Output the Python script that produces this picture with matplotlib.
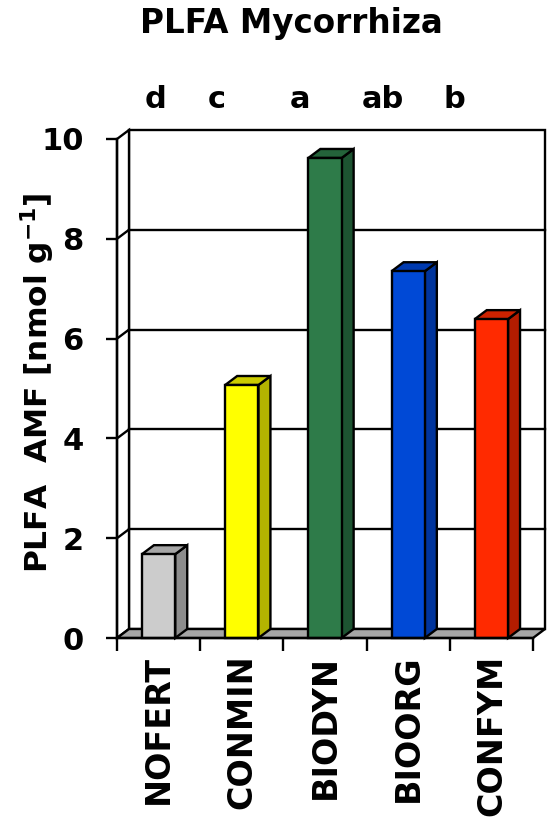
import matplotlib
matplotlib.use("Agg")
import matplotlib.pyplot as plt
from matplotlib.patches import Polygon

# data
treatments = ["NOFERT", "CONMIN", "BIODYN", "BIOORG", "CONFYM"]
amf_values = [1.68, 5.07, 9.62, 7.35, 6.39]
letters = ["d", "c", "a", "ab", "b"]
y_ticks = [0, 2, 4, 6, 8, 10]

# styles
front_colors = ["#cccccc", "#ffff00", "#2e7b49", "#0049d6", "#ff2a00"]
side_colors = ["#8c8c8c", "#b3b300", "#1d5331", "#00349c", "#b31c00"]
top_colors = ["#a6a6a6", "#cccc00", "#24633a", "#003ab0", "#cc2200"]
letter_x = [0.46, 1.20, 2.20, 3.19, 4.06]

W, H = 554, 836
DPI = 100
fig = plt.figure(figsize=(W / DPI, H / DPI), dpi=DPI)
FONT = "DejaVu Sans"

# pixel layout of the plotting box
px_x0, px_cat = 117, 83.2     # x=0 at pixel 117, one category = 83.2 px
px_y0, px_unit = 638, 49.9    # y=0 at pixel 638 (from top), one unit = 49.9 px
left_px, right_px, top_px, bot_px = 100, 552, 125, 660

ax = fig.add_axes([left_px / W, 1 - bot_px / H,
                   (right_px - left_px) / W, (bot_px - top_px) / H])
ax.set_xlim((left_px - px_x0) / px_cat, (right_px - px_x0) / px_cat)
ax.set_ylim((px_y0 - bot_px) / px_unit, (px_y0 - top_px) / px_unit)
ax.patch.set_alpha(0)

n = len(treatments)
ymax = 10
dx = 12 / px_cat   # depth offset
dy = 9 / px_unit
lw = 1.7

# back wall
ax.add_patch(Polygon([(dx, dy), (n + dx, dy), (n + dx, ymax + dy), (dx, ymax + dy)],
                     closed=True, facecolor="white", edgecolor="black", lw=lw, zorder=1))
# left wall
ax.add_patch(Polygon([(0, 0), (dx, dy), (dx, ymax + dy), (0, ymax)],
                     closed=True, facecolor="white", edgecolor="black", lw=lw, zorder=1))
# gridlines
for t in y_ticks[1:-1]:
    ax.plot([dx, n + dx], [t + dy, t + dy], color="black", lw=lw, zorder=2)
    ax.plot([0, dx], [t, t + dy], color="black", lw=lw, zorder=2)
# floor
ax.add_patch(Polygon([(0, 0), (n, 0), (n + dx, dy), (dx, dy)],
                     closed=True, facecolor="#a6a6a6", edgecolor="black", lw=lw, zorder=3))

# bars
bw = 0.4
for i, v in enumerate(amf_values):
    c = i + 0.5
    xl, xr = c - bw / 2, c + bw / 2
    ax.add_patch(Polygon([(xr, 0), (xr + dx, dy), (xr + dx, v + dy), (xr, v)],
                         closed=True, facecolor=side_colors[i], edgecolor="black",
                         lw=lw, joinstyle="miter", zorder=4))
    ax.add_patch(Polygon([(xl, v), (xr, v), (xr + dx, v + dy), (xl + dx, v + dy)],
                         closed=True, facecolor=top_colors[i], edgecolor="black",
                         lw=lw, joinstyle="miter", zorder=4))
    ax.add_patch(Polygon([(xl, 0), (xr, 0), (xr, v), (xl, v)],
                         closed=True, facecolor=front_colors[i], edgecolor="black",
                         lw=lw, joinstyle="miter", zorder=5))

# significance letters
for x, s in zip(letter_x, letters):
    ax.text(x, (px_y0 - 108) / px_unit, s, ha="center", va="baseline",
            fontsize=22, fontweight="bold", family=FONT)

# axes
for side in ["top", "right"]:
    ax.spines[side].set_visible(False)
ax.spines["left"].set_position(("data", 0))
ax.spines["left"].set_bounds(0, ymax)
ax.spines["bottom"].set_position(("data", 0))
ax.spines["bottom"].set_bounds(0, n)
ax.spines["left"].set_linewidth(lw)
ax.spines["bottom"].set_linewidth(lw)
ax.spines["left"].set_zorder(6)
ax.spines["bottom"].set_zorder(6)

ax.set_yticks(y_ticks)
ax.set_yticklabels([str(t) for t in y_ticks], fontsize=22, fontweight="bold", family=FONT)
ax.tick_params(axis="y", direction="out", length=8, width=lw, pad=16)

ax.set_xticks(range(n + 1))
ax.set_xticklabels([])
ax.set_xticks([i + 0.5 for i in range(n)], minor=True)
ax.set_xticklabels(treatments, minor=True, rotation=90, fontsize=24,
                   fontweight="bold", family=FONT, va="top", ha="center")
ax.tick_params(axis="x", which="major", direction="out", length=9, width=lw)
ax.tick_params(axis="x", which="minor", length=0, pad=12)

fig.text(38 / W, 1 - 383 / H, "PLFA  AMF [nmol g$^{\\mathbf{-1}}$]", rotation=90,
         ha="center", va="center", fontsize=22.5, fontweight="bold", family=FONT)
fig.text(291 / W, 1 - 33 / H, "PLFA Mycorrhiza", ha="center", va="baseline",
         fontsize=23.5, fontweight="bold", family=FONT)

fig.savefig("out.png", dpi=DPI)
